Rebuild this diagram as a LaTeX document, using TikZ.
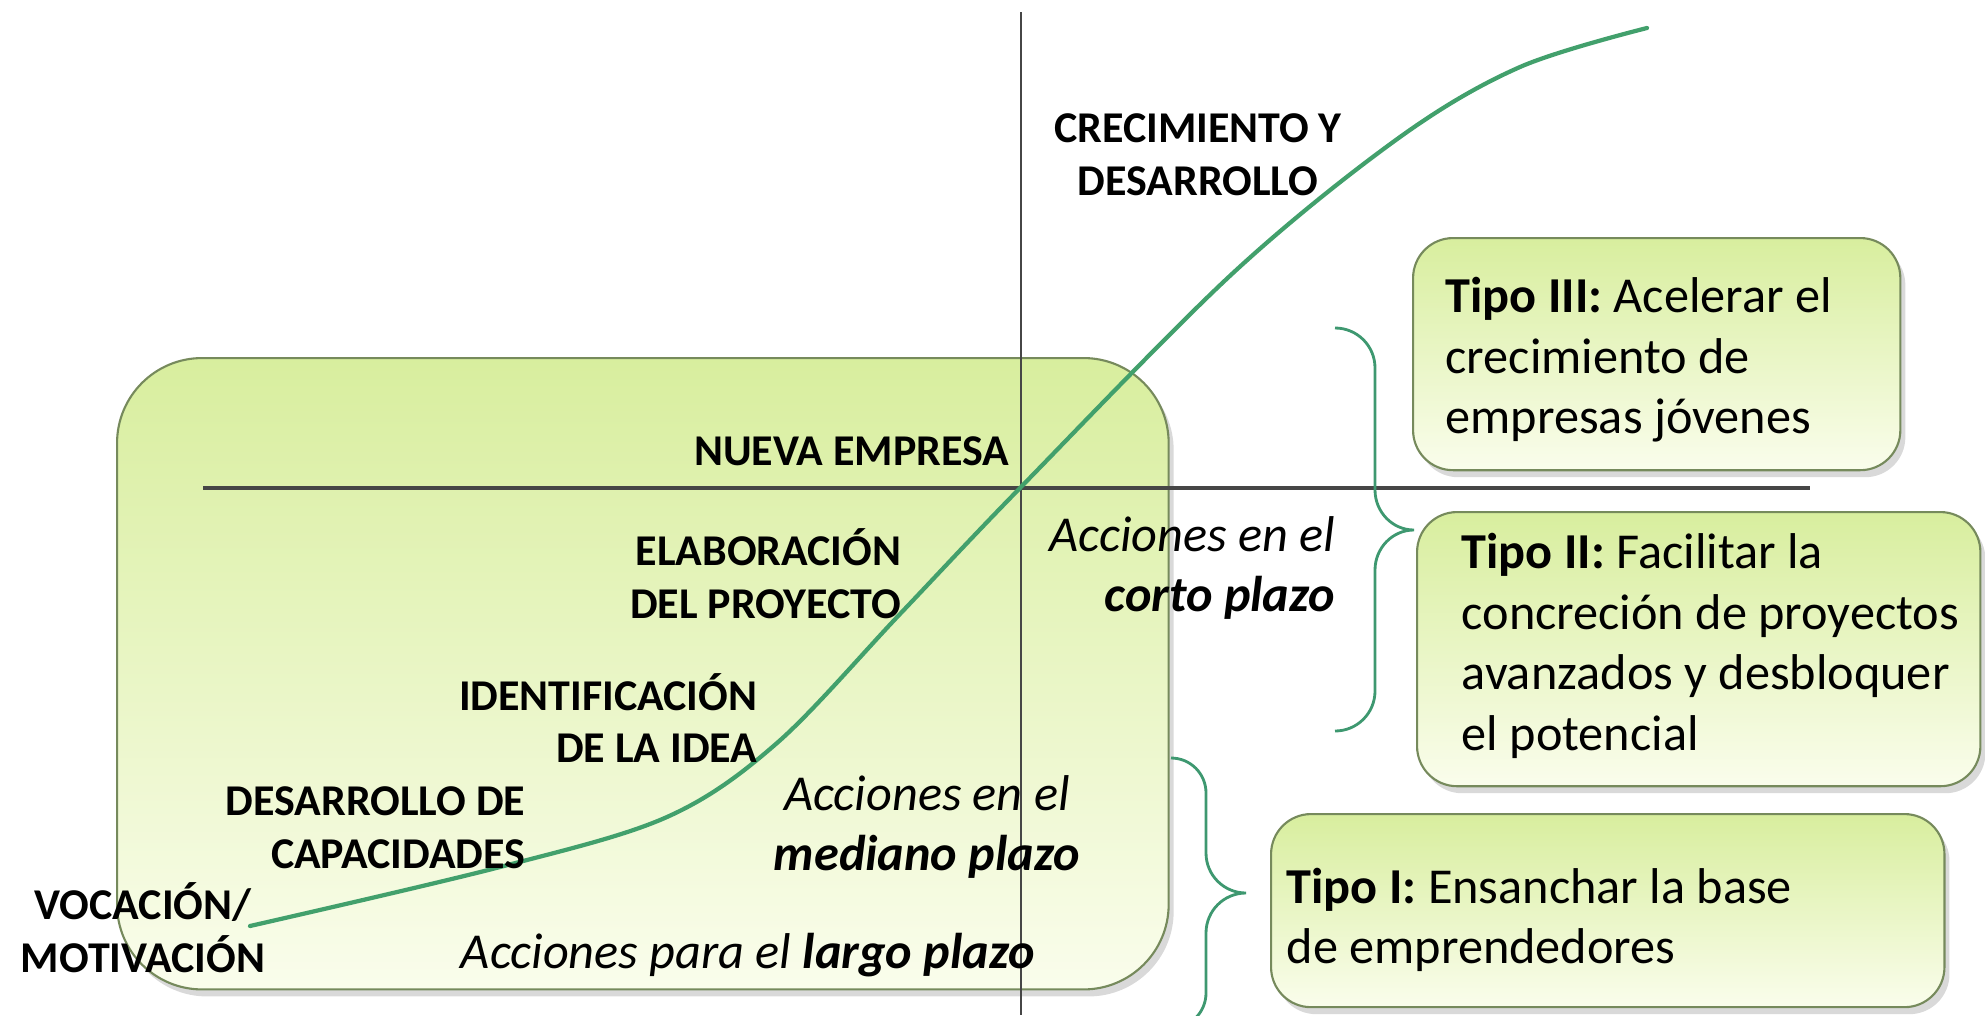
\documentclass[tikz,border=0pt]{standalone}
\usepackage{fontspec}
\setmainfont{Carlito}
\usetikzlibrary{shadows}

\definecolor{verde}{RGB}{66,160,108}
\definecolor{llave}{RGB}{62,152,112}
\definecolor{cajaarriba}{RGB}{216,238,158}
\definecolor{cajaabajo}{RGB}{250,253,236}
\definecolor{borde}{RGB}{118,138,92}
\definecolor{eje}{RGB}{70,70,70}

\tikzset{
  caja/.style={draw=borde, line width=0.6pt, top color=cajaarriba, bottom color=cajaabajo,
    drop shadow={shadow xshift=0.05cm, shadow yshift=-0.07cm, opacity=0.3}},
  etapa/.style={font=\bfseries\fontsize{12.5}{15}\selectfont, inner sep=0pt},
  accion/.style={font=\itshape\fontsize{14.3}{17}\selectfont, inner sep=0pt},
  tipotxt/.style={font=\fontsize{14.3}{17.2}\selectfont, align=left, inner sep=0pt},
  llaveb/.style={draw=llave, line width=0.8pt},
}

\begin{document}
\begin{tikzpicture}[x=0.01cm, y=-0.01cm]
  \useasboundingbox (0,0) rectangle (1985,1015);

  % caja grande
  \node[caja, rounded corners=0.85cm, minimum width=10.51cm, minimum height=6.31cm,
        anchor=north west] (base) at (116,357) {};

  % ejes
  \coordinate (ejeN) at (1021,12);
  \coordinate (ejeS) at (1021,1015);
  \coordinate (ejeO) at (203,488);
  \coordinate (ejeE) at (1810,488);
  \draw[eje, line width=0.6pt] (ejeN) -- (ejeS);
  \draw[eje, line width=1pt] (ejeO) -- (ejeE);

  % curva
  \draw[verde, line width=1.2pt, line cap=round] plot[smooth, tension=0.55] coordinates {
    (250,926) (500,867) (667,817) (777,743) (900,614) (1020,488)
    (1233,273) (1400,137) (1520,67) (1647,28)};

  % etapas
  \node[etapa, align=center] (crec) at (1198,155) {CRECIMIENTO Y\\DESARROLLO};
  \node[etapa, anchor=east] (nueva) at (1010,451) {NUEVA EMPRESA};
  \node[etapa, align=right, anchor=east] (elab) at (902,574) {ELABORACIÓN\\DEL PROYECTO};
  \node[etapa, align=right, anchor=east] (ident) at (758,718) {IDENTIFICACIÓN\\DE LA IDEA};
  \node[etapa, align=right, anchor=east] (desa) at (526,828) {DESARROLLO DE\\CAPACIDADES};
  \node[etapa, align=center] (voca) at (143,928) {VOCACIÓN/\\MOTIVACIÓN};

  % acciones
  \node[accion, align=right, anchor=east] (corto) at (1336,568) {Acciones en el\\\textbf{corto plazo}};
  \node[accion, align=center] (mediano) at (927,827) {Acciones en el\\\textbf{mediano plazo}};
  \node[accion] (largo) at (748,955) {Acciones para el \textbf{largo plazo}};

  % tipos
  \node[caja, rounded corners=0.4cm, minimum width=4.87cm, minimum height=2.32cm,
        anchor=north west] (tipoIII) at (1412,237) {};
  \node[tipotxt, anchor=west] (tipoIIItxt) at (1445,360)
    {\textbf{Tipo III:} Acelerar el\\crecimiento de\\empresas jóvenes};
  \node[caja, rounded corners=0.4cm, minimum width=5.63cm, minimum height=2.74cm,
        anchor=north west] (tipoII) at (1416,511) {};
  \node[tipotxt, anchor=west] (tipoIItxt) at (1461,646)
    {\textbf{Tipo II:} Facilitar la\\concreción de proyectos\\avanzados y desbloquer\\el potencial};
  \node[caja, rounded corners=0.4cm, minimum width=6.73cm, minimum height=1.93cm,
        anchor=north west] (tipoI) at (1270,813) {};
  \node[tipotxt, anchor=west] (tipoItxt) at (1286,920)
    {\textbf{Tipo I:} Ensanchar la base\\de emprendedores};

  % llaves
  \draw[llaveb] (1335,328) to[out=0,in=90] (1375,368) -- (1375,490)
    to[out=-90,in=180] (1414,530) to[out=180,in=90] (1375,570) -- (1375,691)
    to[out=-90,in=0] (1335,731);
  \draw[llaveb] (1171,758) to[out=0,in=90] (1206,793) -- (1206,853)
    to[out=-90,in=180] (1246,893) to[out=180,in=90] (1206,933) -- (1206,993)
    to[out=-90,in=0] (1171,1028);
\end{tikzpicture}
\end{document}
